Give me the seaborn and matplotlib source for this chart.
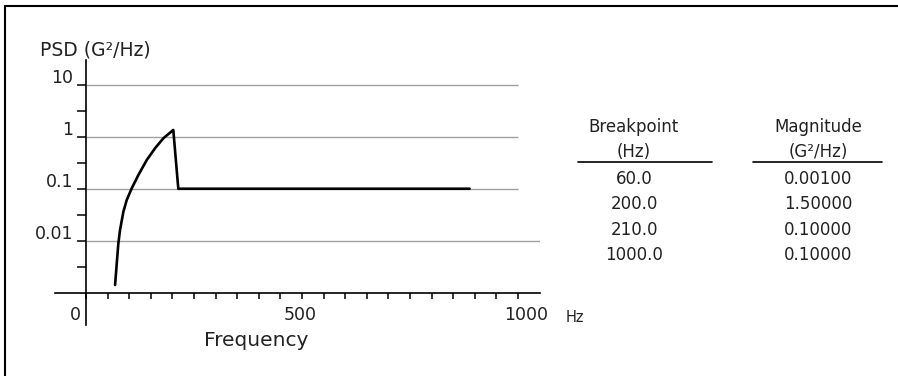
import numpy as np
import pandas as pd
import seaborn as sns
import matplotlib.pyplot as plt
from matplotlib.lines import Line2D
from matplotlib.transforms import ScaledTranslation
from matplotlib.ticker import FixedLocator, NullFormatter

# curve (Hz, G^2/Hz)
freq_hz = [67.1, 71.0, 74.7, 78.6, 86.3, 94.1, 105.7, 121.0, 140.4, 159.6, 178.8, 201.9, 213.5, 888.0]
psd_g2hz = [0.00141, 0.00367, 0.0089, 0.0161, 0.0361, 0.0607, 0.102, 0.183, 0.356, 0.599, 0.931, 1.35, 0.10, 0.10]

grid_levels = [10, 1, 0.1, 0.01]
y_major = [0.01, 0.1, 1, 10]
y_major_labels = ["0.01", "0.1", "1", "10"]
y_minor = [10 ** -2.5, 10 ** -1.5, 10 ** -0.5, 10 ** 0.5]
x_major = [0, 500, 1000]
x_major_labels = ["0", "500", "1000"]
x_minor = list(range(50, 1000, 50))

# breakpoint table shown on the right
breakpoints = ["60.0", "200.0", "210.0", "1000.0"]
magnitudes = ["0.00100", "1.50000", "0.10000", "0.10000"]

sns.set_style("white")
plt.rcParams['font.family'] = ['DejaVu Sans']

W, H = 898, 376
fig = plt.figure(figsize=(W / 100, H / 100), dpi=100)


def fx(px):
    return px / W


def fy(py):
    return 1 - py / H


ax = fig.add_axes([fx(55), fy(325), fx(540) - fx(55), fy(60) - fy(325)])
ax.set_yscale("log")
ax.set_xlim(-72, 1051)
ax.set_ylim(10 ** -3.62, 10 ** 1.475)

# grid lines
for lvl in grid_levels:
    x_end = 1051 if lvl == 0.01 else 1000
    ax.hlines(lvl, 0, x_end, color="#a0a0a0", lw=1.0, zorder=1)

df = pd.DataFrame({"Frequency": freq_hz, "PSD": psd_g2hz})
sns.lineplot(data=df, x="Frequency", y="PSD", ax=ax, sort=False, color="black", lw=1.9, zorder=3)
ax.set_xlabel("")
ax.set_ylabel("")

for s in ["top", "right"]:
    ax.spines[s].set_visible(False)
ax.spines["left"].set_position(("data", 0))
ax.spines["bottom"].set_position(("data", 0.001))
for s in ["left", "bottom"]:
    ax.spines[s].set_linewidth(1.2)
    ax.spines[s].set_color("black")

ax.yaxis.set_major_locator(FixedLocator(y_major))
ax.yaxis.set_minor_locator(FixedLocator(y_minor))
ax.set_yticklabels(y_major_labels)
ax.yaxis.set_minor_formatter(NullFormatter())
ax.xaxis.set_major_locator(FixedLocator(x_major))
ax.xaxis.set_minor_locator(FixedLocator(x_minor))
ax.set_xticklabels(x_major_labels)

ax.tick_params(axis="y", which="both", direction="out", length=6.5, width=1.1, pad=3,
               labelsize=12.5, colors="black", labelcolor="#222222", left=True)
ax.tick_params(axis="x", which="both", direction="out", length=4.3, width=1.1, pad=5,
               labelsize=12.5, colors="black", labelcolor="#222222", bottom=True)

for lab in ax.get_yticklabels():
    lab.set_transform(lab.get_transform() + ScaledTranslation(0, 0.085, fig.dpi_scale_trans))
x_shift = [-0.11, -0.02, 0.08]
for lab, dx in zip(ax.get_xticklabels(), x_shift):
    lab.set_transform(lab.get_transform() + ScaledTranslation(dx, 0, fig.dpi_scale_trans))

# texts around the axes
fig.text(fx(40), fy(50), "PSD (G²/Hz)", fontsize=13.5, ha="left", va="center", color="#222222")
fig.text(fx(256), fy(340), "Frequency", fontsize=14.5, ha="center", va="center", color="#222222")
fig.text(fx(575), fy(317), "Hz", fontsize=10.5, ha="center", va="center", color="#222222")

# table
col_x = [634, 818]
tsize = 12
fig.text(fx(col_x[0]), fy(127), "Breakpoint", fontsize=tsize, ha="center", va="center", color="#222222")
fig.text(fx(col_x[1]), fy(127), "Magnitude", fontsize=tsize, ha="center", va="center", color="#222222")
fig.text(fx(col_x[0]), fy(152), "(Hz)", fontsize=tsize, ha="center", va="center", color="#222222")
fig.text(fx(col_x[1]), fy(152), "(G²/Hz)", fontsize=tsize, ha="center", va="center", color="#222222")
fig.add_artist(Line2D([fx(578), fx(712)], [fy(162), fy(162)], color="black", lw=1.2))
fig.add_artist(Line2D([fx(753), fx(882)], [fy(162), fy(162)], color="black", lw=1.2))
for i, (bp, mg) in enumerate(zip(breakpoints, magnitudes)):
    yy = 179 + 25.3 * i
    fig.text(fx(col_x[0]), fy(yy), bp, fontsize=tsize, ha="center", va="center", color="#222222")
    fig.text(fx(col_x[1]), fy(yy), mg, fontsize=tsize, ha="center", va="center", color="#222222")

# outer frame (left and top edges only)
fig.add_artist(Line2D([fx(5), fx(5)], [0, fy(6)], color="black", lw=1.5))
fig.add_artist(Line2D([fx(5), 1], [fy(6), fy(6)], color="black", lw=1.5))

fig.savefig("out.png", dpi=100)
